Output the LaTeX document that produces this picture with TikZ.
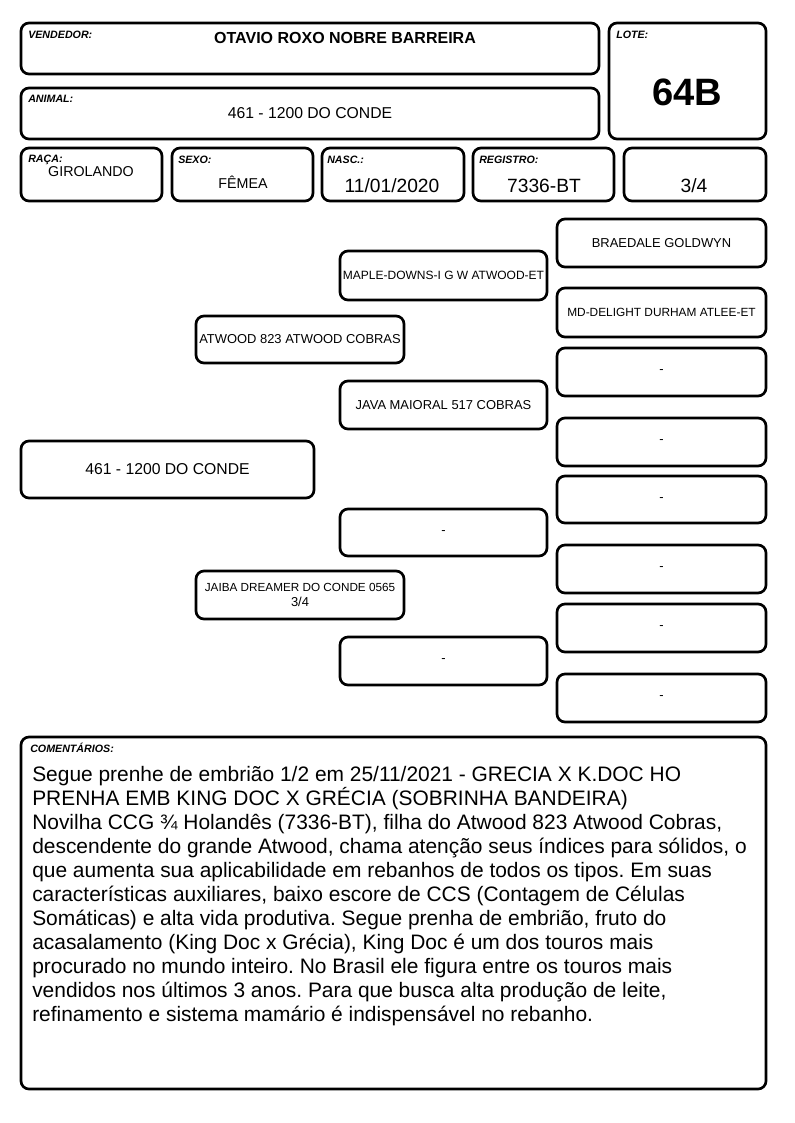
\documentclass[tikz,border=0pt]{standalone}
\usepackage{fontspec}
\setmainfont{Liberation Sans}
\usetikzlibrary{positioning, calc}
\definecolor{cardink}{HTML}{000000}
\newcommand{\card}[6]{%
  \node[cardbox, minimum width={(#4-#2)*0.75pt}, minimum height={(#5-#3)*0.75pt}]
    (#1) at ({(#2+#4)/2},{(#3+#5)/2}) {#6};}
\newcommand{\fieldlabel}[3]{%
  \node[fieldtag] (#1) at (#2) {#3};}
\frenchspacing

\begin{document}
\begin{tikzpicture}[x=0.75pt, y=-0.75pt,
    cardbox/.style={draw=cardink, line width=2pt, rounded corners=6pt, inner sep=0pt,
                    align=center, font=\fontsize{9.7}{11.5}\selectfont},
    fieldtag/.style={anchor=base west, inner sep=0pt, font=\fontsize{8}{9}\selectfont\bfseries\itshape},
    fieldval/.style={anchor=base, inner sep=0pt}]
  \useasboundingbox (0,0) rectangle (794,1123);
  % cabecalho
  \card{vend}{21}{23}{599}{74}{}
  \card{lote}{609}{23}{766}{139}{}
  \card{anim}{21}{88}{599}{139}{}
  \foreach \nm/\xa/\xb in {raca/21/162, sexo/172/313, nasc/322/464, regi/473/614, grau/624/766}{%
    \card{\nm}{\xa}{148}{\xb}{201}{}}
  \fieldlabel{vendtag}{28,39}{VENDEDOR:}
  \fieldlabel{lotetag}{616,39}{LOTE:}
  \fieldlabel{animtag}{28,103}{ANIMAL:}
  \fieldlabel{racatag}{28,163}{RAÇA:}
  \fieldlabel{sexotag}{178,164}{SEXO:}
  \fieldlabel{nasctag}{327,164}{NASC.:}
  \fieldlabel{regitag}{479,164}{REGISTRO:}
  \node[fieldval, font=\fontsize{12}{14}\selectfont\bfseries] (vendval) at (345,44) {OTAVIO ROXO NOBRE BARREIRA};
  \node[fieldval, font=\fontsize{28.6}{32}\selectfont\bfseries] (loteval) at (687,106) {64B};
  \node[fieldval, font=\fontsize{11.8}{14}\selectfont] (animval) at (310,119) {461 - 1200 DO CONDE};
  \node[fieldval, font=\fontsize{10.7}{13}\selectfont] (racaval) at (91,177) {GIROLANDO};
  \node[fieldval, font=\fontsize{10.7}{13}\selectfont] (sexoval) at (243,189) {FÊMEA};
  \node[fieldval, font=\fontsize{14.4}{17}\selectfont] (nascval) at (392,193) {11/01/2020};
  \node[fieldval, font=\fontsize{14.4}{17}\selectfont] (regival) at (544,193) {7336-BT};
  \node[fieldval, font=\fontsize{14.4}{17}\selectfont] (grauval) at (694,193) {3/4};
  % genealogia
  \card{filho}{21}{441}{314}{498}{\fontsize{11.8}{14}\selectfont 461 - 1200 DO CONDE}
  \card{pai}{196}{316}{404}{363}{ATWOOD 823 ATWOOD COBRAS}
  \card{mae}{196}{571}{404}{619}{\fontsize{8.8}{11.5}\selectfont JAIBA DREAMER DO CONDE 0565\\3/4}
  \foreach \nm/\ya/\yb/\txt in {avo1/251/300/\fontsize{9}{11}\selectfont MAPLE-DOWNS-I G W ATWOOD-ET,
                                avo2/381/429/JAVA MAIORAL 517 COBRAS,
                                avo3/509/556/-, avo4/637/685/-}{%
    \card{\nm}{340}{\ya}{547}{\yb}{\txt}}
  \foreach \nm/\ya/\yb/\txt in {bis1/219/267/BRAEDALE GOLDWYN,
                                bis2/288/337/\fontsize{8.9}{11}\selectfont MD-DELIGHT DURHAM ATLEE-ET,
                                bis3/348/396/-, bis4/418/466/-, bis5/476/523/-,
                                bis6/545/593/-, bis7/604/652/-, bis8/674/722/-}{%
    \card{\nm}{557}{\ya}{766}{\yb}{\txt}}
  % comentarios
  \card{coment}{21}{737}{766}{1089}{}
  \fieldlabel{comenttag}{30,752}{COMENTÁRIOS:}
  \node[anchor=north west, inner sep=0pt, align=left, font=\fontsize{15.7}{18}\selectfont]
    (comtext) at (32,766) {Segue prenhe de embrião 1/2 em 25/11/2021 - GRECIA X K.DOC HO\\
    PRENHA EMB KING DOC X GRÉCIA (SOBRINHA BANDEIRA)\\
    Novilha CCG ¾ Holandês (7336-BT), filha do Atwood 823 Atwood Cobras,\\
    descendente do grande Atwood, chama atenção seus índices para sólidos, o\\
    que aumenta sua aplicabilidade em rebanhos de todos os tipos. Em suas\\
    características auxiliares, baixo escore de CCS (Contagem de Células\\
    Somáticas) e alta vida produtiva. Segue prenha de embrião, fruto do\\
    acasalamento (King Doc x Grécia), King Doc é um dos touros mais\\
    procurado no mundo inteiro. No Brasil ele figura entre os touros mais\\
    vendidos nos últimos 3 anos. Para que busca alta produção de leite,\\
    refinamento e sistema mamário é indispensável no rebanho.};
\end{tikzpicture}
\end{document}
